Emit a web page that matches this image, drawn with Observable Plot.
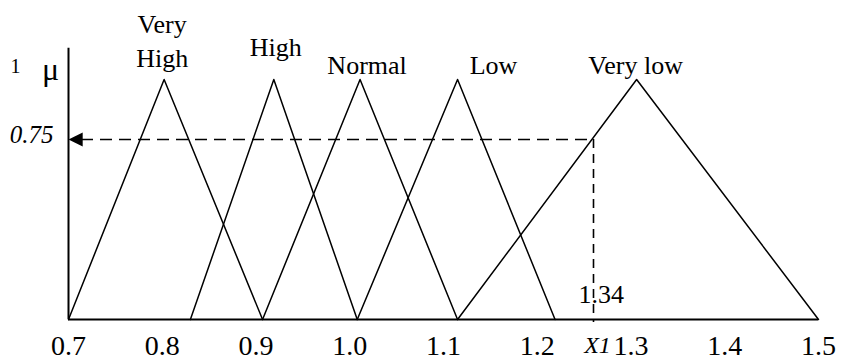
<!DOCTYPE html>
<html>
<head>
<meta charset="utf-8">
<script src="https://cdn.jsdelivr.net/npm/d3@7"></script>
<script src="https://cdn.jsdelivr.net/npm/@observablehq/plot@0.6"></script>
<style>
  html, body { margin: 0; padding: 0; background: #fff; }
  #chart svg { display: block; }
</style>
</head>
<body>
<div id="chart"></div>
<script>
// Triangular fuzzy sets over the input universe 0.7 – 1.5
const setNames = ["Very High", "High", "Normal", "Low", "Very low"];
const setLeft  = [0.700, 0.830, 0.907, 1.008, 1.115];
const setPeak  = [0.802, 0.919, 1.011, 1.115, 1.306];
const setRight = [0.907, 1.008, 1.115, 1.219, 1.500];

// Tick values along the universe
const xTicks = [0.7, 0.8, 0.9, 1.0, 1.1, 1.2, 1.3, 1.4, 1.5];

// Crisp input X1 and its membership degree
const x1Input = 1.26;
const x1Degree = 0.75;
const x1ValueText = "1.34";
const muMax = 1;
const muAxisTop = 1.13;

// One polyline per set: left foot, peak, right foot
const triangleRows = setNames.flatMap((name, i) => [
  {set: name, x: setLeft[i], mu: 0},
  {set: name, x: setPeak[i], mu: muMax},
  {set: name, x: setRight[i], mu: 0}
]);

// Label placement around each peak (pixels)
const labelShift = {
  "Very High": {dx: -2, dy: -13},
  "High":      {dx: 2,  dy: -24},
  "Normal":    {dx: 7,  dy: -6},
  "Low":       {dx: 36, dy: -6},
  "Very low":  {dx: -1, dy: -6}
};
const labelText = {"Very High": "Very\nHigh"};

const serif = "'Liberation Serif', 'Times New Roman', serif";

// Filled arrowhead pointing left, tip at the origin
const leftHead = {
  draw(ctx, size) {
    const s = Math.sqrt(size);
    ctx.moveTo(0, 0);
    ctx.lineTo(s, -s / 2);
    ctx.lineTo(s, s / 2);
    ctx.closePath();
  }
};

const chart = Plot.plot({
  width: 843,
  height: 362,
  marginLeft: 68,
  marginRight: 25,
  marginTop: 79,
  marginBottom: 43,
  x: {domain: [0.7, 1.5], label: null},
  y: {domain: [0, 1], axis: null, label: null},
  style: {fontFamily: serif, color: "black", background: "white", overflow: "visible"},
  marks: [
    // membership functions
    Plot.line(triangleRows, {x: "x", y: "mu", z: "set", stroke: "black", strokeWidth: 1.5}),
    // μ axis and universe axis lines
    Plot.ruleX([0.7], {y1: 0, y2: muAxisTop, stroke: "black", strokeWidth: 2}),
    Plot.ruleY([0], {x1: 0.7, x2: 1.5, stroke: "black", strokeWidth: 2}),
    // projection of X1 onto the μ axis
    Plot.ruleY([x1Degree], {x1: 0.7, x2: x1Input, stroke: "black", strokeWidth: 1.6,
      strokeDasharray: "12,7", insetLeft: 13}),
    Plot.ruleX([x1Input], {y1: x1Degree, y2: 0, stroke: "black", strokeWidth: 1.6,
      strokeDasharray: "9,6", insetBottom: -3}),
    Plot.dot([{x: 0.7, y: x1Degree}], {x: "x", y: "y", symbol: leftHead, r: 8,
      fill: "black", stroke: "none"}),
    // set names
    ...setNames.map((name, i) => Plot.text([name], {
      x: () => setPeak[i], y: () => muMax,
      text: d => labelText[d] ?? d,
      lineAnchor: "bottom", lineHeight: 1.27,
      dx: labelShift[name].dx, dy: labelShift[name].dy,
      fontSize: 26, fill: "black"
    })),
    // μ axis annotations
    Plot.text([muMax], {x: () => 0.7, y: d => d, text: d => String(d), lineAnchor: "bottom",
      dx: -53, dy: -7, fontSize: 20, fill: "black"}),
    Plot.text(["\u03bc"], {x: () => 0.7, y: () => muMax, text: d => d, lineAnchor: "bottom",
      dx: -18, dy: 0, fontSize: 32, fill: "black"}),
    Plot.text([x1Degree], {x: () => 0.7, y: d => d, text: d => String(d), lineAnchor: "bottom",
      textAnchor: "end", dx: -15, dy: 3, fontSize: 25, fontStyle: "italic", fill: "black"}),
    // X1 annotations
    Plot.text(["X1"], {x: () => x1Input, y: () => 0, text: d => d, lineAnchor: "bottom",
      dx: 4, dy: 33, fontSize: 24, fontStyle: "italic", fill: "black"}),
    Plot.text([x1ValueText], {x: () => x1Input, y: () => 0, text: d => d, lineAnchor: "bottom",
      textAnchor: "start", dx: -15, dy: -17, fontSize: 26, fill: "black"}),
    // universe tick labels
    Plot.axisX(xTicks, {tickSize: 0, tickPadding: 16, fontSize: 28, label: null,
      tickFormat: d => d.toFixed(1), fill: "black"})
  ]
});

document.getElementById("chart").appendChild(chart);
</script>
</body>
</html>
